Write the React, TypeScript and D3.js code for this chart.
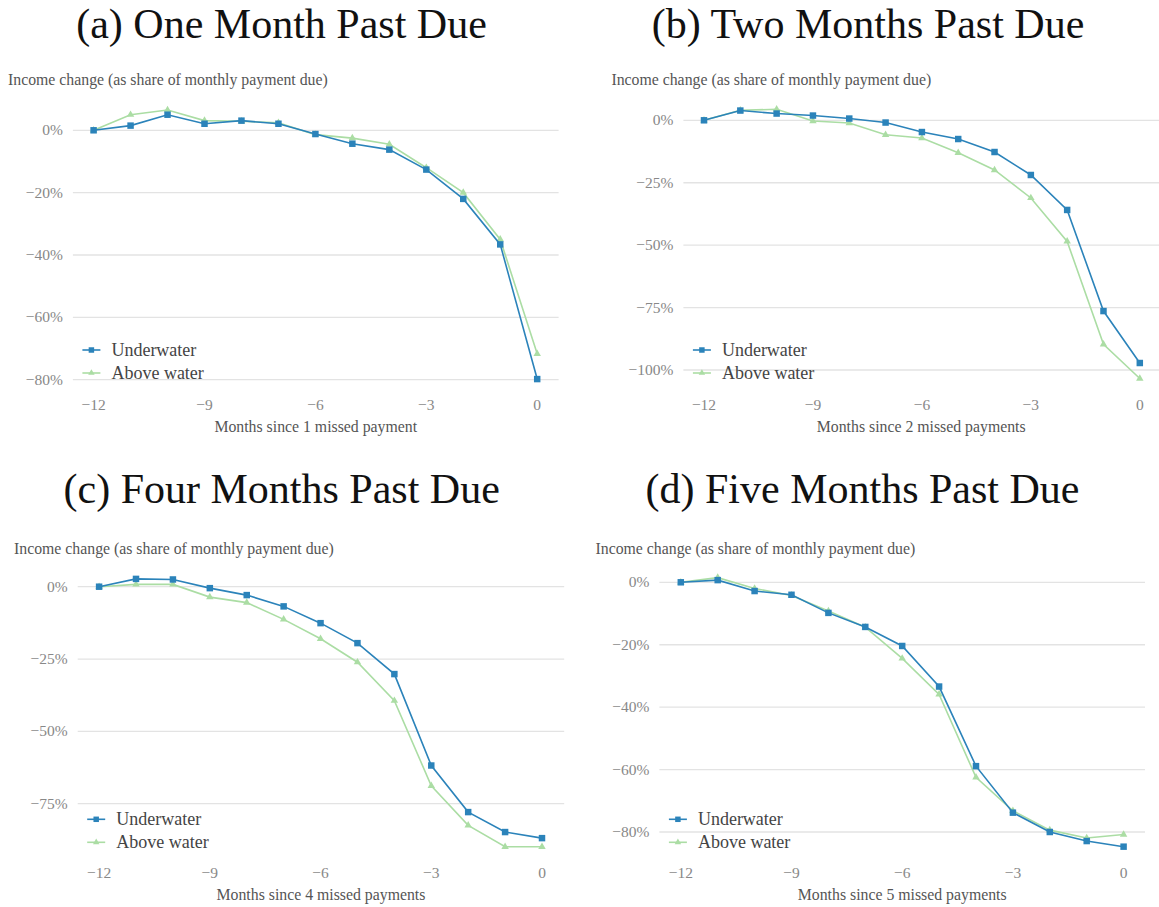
import React from "react";
import * as d3 from "d3";

const months = [-12, -11, -10, -9, -8, -7, -6, -5, -4, -3, -2, -1, 0];
const xTicks = [-12, -9, -6, -3, 0];

const titles = [
  "(a) One Month Past Due",
  "(b) Two Months Past Due",
  "(c) Four Months Past Due",
  "(d) Five Months Past Due",
];
const xTitles = [
  "Months since 1 missed payment",
  "Months since 2 missed payments",
  "Months since 4 missed payments",
  "Months since 5 missed payments",
];
const yLabel = "Income change (as share of monthly payment due)";
const seriesNames = ["Underwater", "Above water"];

const yTicksA = [0, -20, -40, -60, -80];
const yTicksB = [0, -25, -50, -75, -100];
const yTicksC = [0, -25, -50, -75];
const yTicksD = [0, -20, -40, -60, -80];

const underwaterA = [0, 1.5, 5.0, 2.1, 3.1, 2.1, -1.2, -4.3, -6.2, -12.6, -22.0, -36.6, -79.8];
const aboveA = [0, 5.0, 6.5, 3.1, 2.9, 2.4, -1.4, -2.5, -4.5, -12.0, -20.0, -35.0, -71.7];

const underwaterB = [0, 3.9, 2.7, 1.9, 0.7, -0.9, -4.7, -7.5, -12.7, -21.9, -35.9, -76.4, -97.2];
const aboveB = [0, 4.0, 4.4, -0.3, -1.1, -5.8, -7.1, -13.0, -19.9, -31.1, -48.5, -89.7, -103.4];

const underwaterC = [0, 2.7, 2.5, -0.5, -2.9, -6.8, -12.6, -19.5, -30.2, -61.8, -77.9, -84.8, -86.9];
const aboveC = [0, 0.8, 0.8, -3.6, -5.5, -11.3, -18.0, -26.1, -39.4, -68.8, -82.5, -89.9, -89.9];

const underwaterD = [0, 0.7, -2.8, -4.0, -9.8, -14.3, -20.4, -33.4, -58.9, -73.8, -80.0, -82.9, -84.7];
const aboveD = [0, 1.5, -2.0, -4.2, -9.2, -14.4, -24.4, -35.9, -62.5, -73.2, -79.4, -81.9, -80.8];

const BLUE = "#2b83ba";
const GREEN = "#abdda4";
const FONT = "'Liberation Serif', 'Times New Roman', serif";

type PanelSpec = {
  title: string;
  titleX: number;
  titleY: number;
  xTitle: string;
  yTicks: number[];
  uw: number[];
  ab: number[];
  gridX0: number;
  gridX1: number;
  xr: [number, number];
  yd: [number, number];
  yr: [number, number];
  yLabelX: number;
  yLabelY: number;
  xTickY: number;
  xTitleY: number;
  legendY: number;
};

const panels: PanelSpec[] = [
  {
    title: titles[0], titleX: 281.5, titleY: 38,
    xTitle: xTitles[0], yTicks: yTicksA, uw: underwaterA, ab: aboveA,
    gridX0: 72.9, gridX1: 558.6, xr: [93.6, 537.2], yd: [0, -80], yr: [130.3, 379.7],
    yLabelX: 8, yLabelY: 85, xTickY: 410, xTitleY: 432, legendY: 350,
  },
  {
    title: titles[1], titleX: 868, titleY: 38,
    xTitle: xTitles[1], yTicks: yTicksB, uw: underwaterB, ab: aboveB,
    gridX0: 683.4, gridX1: 1159, xr: [704, 1139.8], yd: [0, -100], yr: [120.3, 370],
    yLabelX: 611.4, yLabelY: 85, xTickY: 410, xTitleY: 432, legendY: 350,
  },
  {
    title: titles[2], titleX: 281.7, titleY: 503,
    xTitle: xTitles[2], yTicks: yTicksC, uw: underwaterC, ab: aboveC,
    gridX0: 77.7, gridX1: 564.2, xr: [99.1, 542], yd: [0, -75], yr: [586.7, 803.7],
    yLabelX: 14, yLabelY: 554, xTickY: 878, xTitleY: 900, legendY: 819.3,
  },
  {
    title: titles[3], titleX: 862.5, titleY: 503,
    xTitle: xTitles[3], yTicks: yTicksD, uw: underwaterD, ab: aboveD,
    gridX0: 659.4, gridX1: 1145, xr: [680.8, 1123.6], yd: [0, -80], yr: [582.3, 832],
    yLabelX: 595.5, yLabelY: 554, xTickY: 878, xTitleY: 900, legendY: 819.3,
  },
];

const fmt = d3.format(".0f");
const squarePath = d3.symbol(d3.symbolSquare, 42)();
const trianglePath = d3.symbol(d3.symbolTriangle, 24)();
const squareSmall = d3.symbol(d3.symbolSquare, 30)();
const triangleSmall = d3.symbol(d3.symbolTriangle, 18)();

function Panel({ p }: { p: PanelSpec }) {
  const x = d3.scaleLinear().domain([-12, 0]).range(p.xr);
  const y = d3.scaleLinear().domain(p.yd).range(p.yr);
  const line = d3
    .line<number>()
    .x((_, i) => x(months[i]))
    .y((d) => y(d));
  const legX = p.gridX0 + 9.5;
  return (
    <g>
      <text x={p.titleX} y={p.titleY} textAnchor="middle" fontSize={42} fill="#111" fontFamily={FONT}>
        {p.title}
      </text>
      <text x={p.yLabelX} y={p.yLabelY} fontSize={15.8} fill="#555" fontFamily={FONT}>
        {yLabel}
      </text>
      {p.yTicks.map((t) => (
        <g key={t}>
          <line x1={p.gridX0} x2={p.gridX1} y1={y(t)} y2={y(t)} stroke="#e3e3e3" strokeWidth={1.3} />
          <text x={p.gridX0 - 10} y={y(t) + 5} textAnchor="end" fontSize={15.5} fill="#888" fontFamily={FONT}>
            {fmt(t) + "%"}
          </text>
        </g>
      ))}
      {xTicks.map((t) => (
        <text key={t} x={x(t)} y={p.xTickY} textAnchor="middle" fontSize={15.5} fill="#888" fontFamily={FONT}>
          {fmt(t)}
        </text>
      ))}
      <text x={(p.gridX0 + p.gridX1) / 2} y={p.xTitleY} textAnchor="middle" fontSize={15.8} fill="#555" fontFamily={FONT}>
        {p.xTitle}
      </text>
      <path d={line(p.ab) || ""} fill="none" stroke={GREEN} strokeWidth={1.6} />
      {p.ab.map((v, i) => (
        <path key={"a" + i} d={trianglePath} transform={`translate(${x(months[i])},${y(v)})`} fill={GREEN} />
      ))}
      <path d={line(p.uw) || ""} fill="none" stroke={BLUE} strokeWidth={1.6} />
      {p.uw.map((v, i) => (
        <path key={"u" + i} d={squarePath} transform={`translate(${x(months[i])},${y(v)})`} fill={BLUE} />
      ))}
      <line x1={legX} x2={legX + 18} y1={p.legendY} y2={p.legendY} stroke={BLUE} strokeWidth={1.6} />
      <path d={squareSmall} transform={`translate(${legX + 9},${p.legendY})`} fill={BLUE} />
      <text x={legX + 29} y={p.legendY + 6} fontSize={18} fill="#444" fontFamily={FONT}>
        {seriesNames[0]}
      </text>
      <line x1={legX} x2={legX + 18} y1={p.legendY + 23} y2={p.legendY + 23} stroke={GREEN} strokeWidth={1.6} />
      <path d={triangleSmall} transform={`translate(${legX + 9},${p.legendY + 23})`} fill={GREEN} />
      <text x={legX + 29} y={p.legendY + 29} fontSize={18} fill="#444" fontFamily={FONT}>
        {seriesNames[1]}
      </text>
    </g>
  );
}

export default function App() {
  return (
    <svg
      width={1159}
      height={907}
      viewBox="0 0 1159 907"
      style={{ position: "absolute", left: 0, top: 0, background: "#fff" }}
    >
      <rect x={0} y={0} width={1159} height={907} fill="#fff" />
      {panels.map((p, i) => (
        <Panel key={i} p={p} />
      ))}
    </svg>
  );
}
